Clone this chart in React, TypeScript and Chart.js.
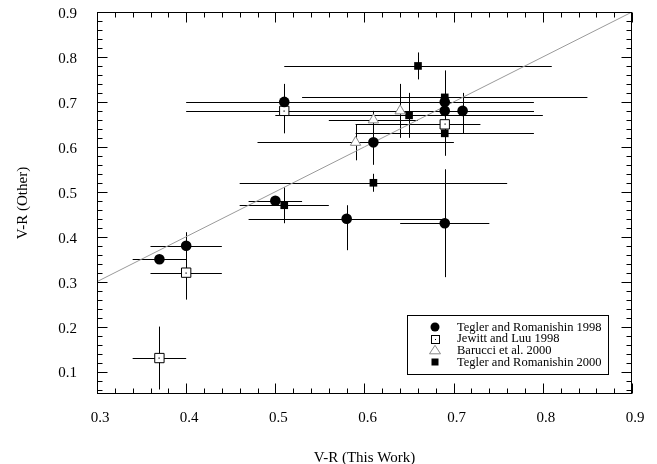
import React, { useEffect, useRef } from 'react';
import { Chart, registerables } from 'chart.js';
Chart.register(...registerables);

const X_MIN = 0.3;
const X_MAX = 0.9;
const Y_MIN = 0.05;
const Y_MAX = 0.9;
const X_TICKS = [0.3, 0.4, 0.5, 0.6, 0.7, 0.8, 0.9];
const Y_TICKS = [0.1, 0.2, 0.3, 0.4, 0.5, 0.6, 0.7, 0.8, 0.9];
const MINOR_STEP = 0.02;

const X_TITLE = 'V-R (This Work)';
const Y_TITLE = 'V-R (Other)';
const SERIES_LABELS = [
  'Tegler and Romanishin 1998',
  'Jewitt and Luu 1998',
  'Barucci et al. 2000',
  'Tegler and Romanishin 2000',
];

// Tegler and Romanishin 1998 (filled circles)
const TR98_X = [0.51, 0.69, 0.69, 0.71, 0.61, 0.50, 0.58, 0.69, 0.40, 0.37];
const TR98_Y = [0.70, 0.70, 0.68, 0.68, 0.61, 0.48, 0.44, 0.43, 0.38, 0.35];
const TR98_XLO = [0.40, 0.59, 0.59, 0.63, 0.52, 0.47, 0.47, 0.64, 0.36, 0.34];
const TR98_XHI = [0.62, 0.79, 0.79, 0.79, 0.70, 0.53, 0.69, 0.74, 0.44, 0.40];
const TR98_YLO = [0.66, 0.66, 0.64, 0.63, 0.56, 0.48, 0.37, 0.31, 0.35, 0.35];
const TR98_YHI = [0.74, 0.74, 0.72, 0.72, 0.66, 0.48, 0.47, 0.55, 0.41, 0.35];

// Jewitt and Luu 1998 (open squares)
const JL98_X = [0.51, 0.69, 0.40, 0.37];
const JL98_Y = [0.68, 0.65, 0.32, 0.13];
const JL98_XLO = [0.40, 0.59, 0.36, 0.34];
const JL98_XHI = [0.62, 0.73, 0.44, 0.40];
const JL98_YLO = [0.63, 0.62, 0.26, 0.06];
const JL98_YHI = [0.73, 0.68, 0.38, 0.20];

// Barucci et al. 2000 (open triangles)
const BA00_X = [0.59, 0.61, 0.64];
const BA00_Y = [0.61, 0.66, 0.68];
const BA00_XLO = [0.48, 0.56, 0.58];
const BA00_XHI = [0.70, 0.66, 0.70];
const BA00_YLO = [0.57, 0.64, 0.62];
const BA00_YHI = [0.65, 0.68, 0.74];

// Tegler and Romanishin 2000 (filled squares)
const TR00_X = [0.66, 0.69, 0.65, 0.69, 0.61, 0.51];
const TR00_Y = [0.78, 0.71, 0.67, 0.63, 0.52, 0.47];
const TR00_XLO = [0.51, 0.53, 0.50, 0.59, 0.46, 0.46];
const TR00_XHI = [0.81, 0.85, 0.80, 0.79, 0.76, 0.56];
const TR00_YLO = [0.75, 0.65, 0.62, 0.58, 0.50, 0.43];
const TR00_YHI = [0.81, 0.77, 0.72, 0.68, 0.54, 0.51];

// one-to-one reference line
const DIAG_X = [0.3, 0.9];
const DIAG_Y = [0.3, 0.9];

const FONT = "'Liberation Serif', 'Times New Roman', serif";

const toPts = (xs: number[], ys: number[]) => xs.map((x, i) => ({ x, y: ys[i] }));

const ERR = [
  { xlo: TR98_XLO, xhi: TR98_XHI, ylo: TR98_YLO, yhi: TR98_YHI, x: TR98_X, y: TR98_Y },
  { xlo: JL98_XLO, xhi: JL98_XHI, ylo: JL98_YLO, yhi: JL98_YHI, x: JL98_X, y: JL98_Y },
  { xlo: BA00_XLO, xhi: BA00_XHI, ylo: BA00_YLO, yhi: BA00_YHI, x: BA00_X, y: BA00_Y },
  { xlo: TR00_XLO, xhi: TR00_XHI, ylo: TR00_YLO, yhi: TR00_YHI, x: TR00_X, y: TR00_Y },
];

const errorBarPlugin = {
  id: 'errorBars',
  beforeDatasetsDraw(chart: any) {
    const ctx = chart.ctx;
    const xs = chart.scales.x;
    const ys = chart.scales.y;
    ctx.save();
    ctx.strokeStyle = '#000';
    ctx.lineWidth = 1;
    ERR.forEach((s) => {
      s.x.forEach((xv, i) => {
        const px = Math.round(xs.getPixelForValue(xv)) + 0.5;
        const py = Math.round(ys.getPixelForValue(s.y[i])) + 0.5;
        const x0 = xs.getPixelForValue(s.xlo[i]);
        const x1 = xs.getPixelForValue(s.xhi[i]);
        const y0 = ys.getPixelForValue(s.ylo[i]);
        const y1 = ys.getPixelForValue(s.yhi[i]);
        ctx.beginPath();
        ctx.moveTo(x0, py);
        ctx.lineTo(x1, py);
        ctx.moveTo(px, y0);
        ctx.lineTo(px, y1);
        ctx.stroke();
      });
    });
    ctx.restore();
  },
};

const frameTicksPlugin = {
  id: 'frameTicks',
  afterDatasetsDraw(chart: any) {
    const ctx = chart.ctx;
    const { left, right, top, bottom } = chart.chartArea;
    const xs = chart.scales.x;
    const ys = chart.scales.y;
    // dots inside open squares
    const meta = chart.getDatasetMeta(1);
    ctx.save();
    ctx.fillStyle = '#000';
    meta.data.forEach((el: any) => {
      ctx.fillRect(Math.round(el.x) - 0.5, Math.round(el.y) - 0.5, 1.2, 1.2);
    });
    ctx.strokeStyle = '#000';
    ctx.lineWidth = 1;
    const L = Math.round(left) + 0.5;
    const R = Math.round(right) - 0.5;
    const T = Math.round(top) + 0.5;
    const B = Math.round(bottom) - 0.5;
    ctx.strokeRect(L, T, R - L, B - T);
    ctx.beginPath();
    const nx = Math.round((X_MAX - X_MIN) / MINOR_STEP);
    for (let k = 0; k <= nx; k++) {
      const v = X_MIN + k * MINOR_STEP;
      const major = k % 5 === 0;
      const len = major ? 10 : 5;
      const p = Math.round(xs.getPixelForValue(v)) + 0.5;
      ctx.moveTo(p, B);
      ctx.lineTo(p, B - len);
      ctx.moveTo(p, T);
      ctx.lineTo(p, T + len);
    }
    const ny = Math.round((Y_MAX - 0.1) / MINOR_STEP);
    for (let k = -2; k <= ny; k++) {
      const v = 0.1 + k * MINOR_STEP;
      if (v < Y_MIN - 1e-9) continue;
      const major = k % 5 === 0;
      const len = major ? 10 : 5;
      const p = Math.round(ys.getPixelForValue(v)) + 0.5;
      ctx.moveTo(L, p);
      ctx.lineTo(L + len, p);
      ctx.moveTo(R, p);
      ctx.lineTo(R - len, p);
    }
    ctx.stroke();
    ctx.restore();
  },
  afterDraw(chart: any) {
    const ctx = chart.ctx;
    const bx = 407.5, by = 315.5, bw = 201, bh = 59;
    ctx.save();
    ctx.fillStyle = '#fff';
    ctx.fillRect(bx, by, bw, bh);
    ctx.strokeStyle = '#000';
    ctx.lineWidth = 1;
    ctx.strokeRect(bx, by, bw, bh);
    const mx = 435;
    const tx = 457;
    const rowY = [327, 338.7, 350.3, 362];
    ctx.font = `12.5px ${FONT}`;
    ctx.textBaseline = 'middle';
    ctx.textAlign = 'left';
    SERIES_LABELS.forEach((lab, i) => {
      const y = rowY[i];
      ctx.fillStyle = '#000';
      ctx.fillText(lab, tx, y + 0.5);
      if (i === 0) {
        ctx.beginPath();
        ctx.arc(mx, y, 4.5, 0, Math.PI * 2);
        ctx.fill();
      } else if (i === 1) {
        ctx.fillStyle = '#fff';
        ctx.fillRect(mx - 4, y - 4, 8, 8);
        ctx.strokeStyle = '#000';
        ctx.strokeRect(Math.round(mx - 4) + 0.5, Math.round(y - 4) + 0.5, 8, 8);
        ctx.fillStyle = '#000';
        ctx.fillRect(Math.round(mx), Math.round(y), 1, 1);
      } else if (i === 2) {
        ctx.strokeStyle = '#888';
        ctx.beginPath();
        ctx.moveTo(mx, y - 5);
        ctx.lineTo(mx + 5.5, y + 3.5);
        ctx.lineTo(mx - 5.5, y + 3.5);
        ctx.closePath();
        ctx.stroke();
      } else {
        ctx.fillRect(mx - 3.5, y - 3.5, 7, 7);
      }
    });
    ctx.restore();
  },
};

export default function App() {
  const ref = useRef<HTMLCanvasElement | null>(null);
  useEffect(() => {
    if (!ref.current) return;
    const chart = new Chart(ref.current, {
      type: 'scatter',
      data: {
        datasets: [
          {
            label: SERIES_LABELS[0],
            data: toPts(TR98_X, TR98_Y),
            pointStyle: 'circle',
            pointRadius: 5.3,
            backgroundColor: '#000',
            borderColor: '#000',
            borderWidth: 0,
          },
          {
            label: SERIES_LABELS[1],
            data: toPts(JL98_X, JL98_Y),
            pointStyle: 'rect',
            pointRadius: 6.6,
            backgroundColor: '#fff',
            borderColor: '#000',
            borderWidth: 1,
          },
          {
            label: SERIES_LABELS[2],
            data: toPts(BA00_X, BA00_Y),
            pointStyle: 'triangle',
            pointRadius: 6,
            backgroundColor: 'rgba(255,255,255,1)',
            borderColor: '#888',
            borderWidth: 1,
          },
          {
            label: SERIES_LABELS[3],
            data: toPts(TR00_X, TR00_Y),
            pointStyle: 'rect',
            pointRadius: 5.4,
            backgroundColor: '#000',
            borderColor: '#000',
            borderWidth: 0,
          },
          {
            type: 'line',
            label: 'one-to-one',
            data: toPts(DIAG_X, DIAG_Y),
            borderColor: '#9a9a9a',
            borderWidth: 1,
            pointRadius: 0,
            fill: false,
            showLine: true,
          } as any,
        ],
      },
      options: {
        animation: false,
        responsive: false,
        devicePixelRatio: 1,
        layout: { padding: { top: 12, right: 25, left: 0, bottom: 0 } },
        plugins: {
          legend: { display: false },
          tooltip: { enabled: false },
        },
        scales: {
          x: {
            type: 'linear',
            min: X_MIN,
            max: X_MAX,
            grid: { display: false, drawTicks: false },
            border: { display: false },
            afterBuildTicks: (s: any) => {
              s.ticks = X_TICKS.map((v) => ({ value: v }));
            },
            afterFit: (s: any) => {
              s.height = 70;
              s.paddingLeft = 0;
              s.paddingRight = 0;
              s.paddingTop = 0;
              s.paddingBottom = 0;
            },
            ticks: {
              padding: 15,
              labelOffset: 3,
              color: '#000',
              font: { family: FONT, size: 15 },
              callback: (v: any) => Number(v).toFixed(1),
              maxRotation: 0,
            },
            title: {
              display: true,
              text: X_TITLE,
              color: '#000',
              font: { family: FONT, size: 15 },
              padding: { top: 0, bottom: -3 },
            },
          },
          y: {
            type: 'linear',
            min: Y_MIN,
            max: Y_MAX,
            grid: { display: false, drawTicks: false },
            border: { display: false },
            afterBuildTicks: (s: any) => {
              s.ticks = Y_TICKS.map((v) => ({ value: v }));
            },
            afterFit: (s: any) => {
              s.width = 97;
              s.paddingTop = 0;
              s.paddingBottom = 0;
              s.paddingLeft = 0;
              s.paddingRight = 0;
            },
            ticks: {
              padding: 20,
              labelOffset: 2,
              color: '#000',
              font: { family: FONT, size: 15 },
              callback: (v: any) => Number(v).toFixed(1),
            },
            title: {
              display: true,
              text: Y_TITLE,
              color: '#000',
              font: { family: FONT, size: 15 },
              padding: { top: 14, bottom: 0 },
            },
          },
        },
      },
      plugins: [errorBarPlugin, frameTicksPlugin],
    });
    return () => chart.destroy();
  }, []);
  return (
    <div style={{ position: 'absolute', left: 0, top: 0, width: 657, height: 464, background: '#fff' }}>
      <canvas ref={ref} width={657} height={464} style={{ display: 'block' }} />
    </div>
  );
}
